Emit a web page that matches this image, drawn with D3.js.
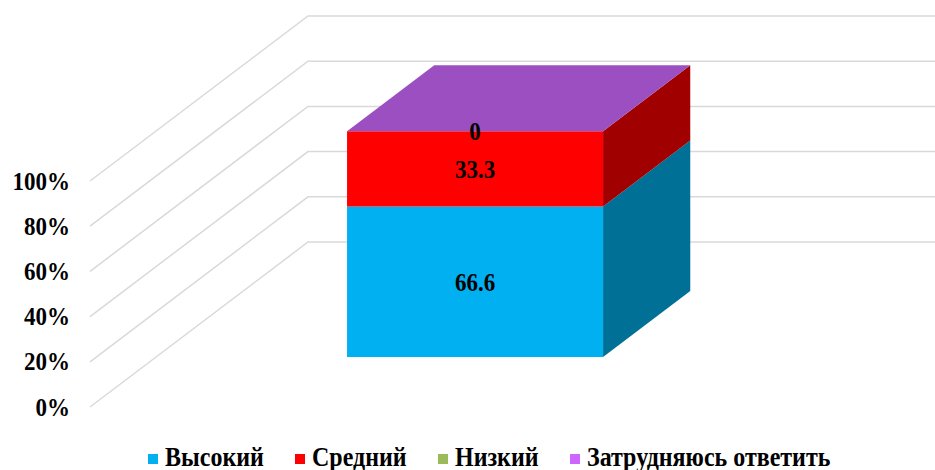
<!DOCTYPE html>
<html>
<head>
<meta charset="utf-8">
<script src="https://cdn.jsdelivr.net/npm/d3@7"></script>
<style>
  body { margin: 0; background: #fff; }
  svg text { font-family: "Liberation Serif", "Times New Roman", serif; font-weight: bold; }
</style>
</head>
<body>
<svg id="chart" width="935" height="470"></svg>
<script>
// chart data
let categories = ['Группа']
let seriesNames = ['Высокий', 'Средний', 'Низкий', 'Затрудняюсь ответить']
let seriesValues = [66.6, 33.3, 0, 0]
let seriesColors = ['#00B0F0', '#FF0000', '#9BBB59', '#CC66FF']
let sideColors = ['#007096', '#A00000', '#6A8040', '#8C45B0']
let topColors = ['#5CCBF5', '#FF4040', '#B4CD80', '#9B4FC1']
let tickValues = [0, 0.2, 0.4, 0.6, 0.8, 1]

let svg = d3.select('#chart')

// fake 3d: world x, value, depth z (0 = front, 1 = back wall)
let originX = 90
let depthX = 218, depthY = -165
let plotWidth = 638
let barZ0 = 0.303, barZ1 = 0.703
let stretch = 1.1  // text in the original looks a bit taller than plain Times

let y = d3.scaleLinear().domain([0, 1]).range([407, 181])
let x = d3.scaleBand().domain(categories).range([0, plotWidth]).paddingInner(0).paddingOuter(0.746)

let pt = (xw, v, z) => [originX + xw + z * depthX, y(v) + z * depthY]
let poly = pts => 'M' + pts.map(p => p.join(',')).join('L') + 'Z'

// grid: diagonal on the left wall + horizontal on the back wall
let grid = svg.append('g')
tickValues.forEach(t => {
  let a = pt(0, t, 0), b = pt(0, t, 1), c = pt(plotWidth + 20, t, 1)
  grid.append('path')
      .attr('d', 'M' + a + 'L' + b + 'L' + c)
      .attr('fill', 'none')
      .attr('stroke', '#d9d9d9')
      .attr('stroke-width', 1.5)
})

// axis labels
let yAxis = d3.axisLeft(y).tickValues(tickValues).tickFormat(d3.format('.0%')).tickSize(0).tickPadding(20)
let axisG = svg.append('g').attr('transform', `translate(${originX},0)`).call(yAxis)
axisG.select('.domain').remove()
axisG.selectAll('text')
     .attr('font-family', '"Liberation Serif", serif')
     .attr('font-weight', 'bold')
     .attr('font-size', 23)
     .attr('fill', '#000')
     .attr('transform', `scale(1,${stretch})`)

// stacked bar
let row = {}
seriesNames.forEach((n, i) => row[n] = seriesValues[i] / 100)
let stacked = d3.stack().keys(seriesNames)([row])

let bars = svg.append('g')
categories.forEach(cat => {
  let x0 = x(cat), x1 = x(cat) + x.bandwidth()
  stacked.forEach((s, i) => {
    let v0 = s[0][0], v1 = s[0][1]
    if (v1 - v0 <= 0) return
    bars.append('path')
        .attr('d', poly([pt(x1, v0, barZ0), pt(x1, v0, barZ1), pt(x1, v1, barZ1), pt(x1, v1, barZ0)]))
        .attr('fill', sideColors[i])
    bars.append('path')
        .attr('d', poly([pt(x0, v0, barZ0), pt(x1, v0, barZ0), pt(x1, v1, barZ0), pt(x0, v1, barZ0)]))
        .attr('fill', seriesColors[i])
  })
  // top face takes the colour of the last series
  let last = stacked.length - 1
  let vt = stacked[last][0][1]
  bars.append('path')
      .attr('d', poly([pt(x0, vt, barZ0), pt(x1, vt, barZ0), pt(x1, vt, barZ1), pt(x0, vt, barZ1)]))
      .attr('fill', topColors[last])

  // value labels (first three series)
  stacked.slice(0, 3).forEach((s, i) => {
    let v0 = s[0][0], v1 = s[0][1]
    let p = pt((x0 + x1) / 2, (v0 + v1) / 2, barZ0)
    bars.append('text')
        .attr('transform', `translate(${p[0]},${p[1]}) scale(1,${stretch})`)
        .attr('dy', '0.35em')
        .attr('text-anchor', 'middle')
        .attr('font-size', 23)
        .text(seriesValues[i])
  })
})

// legend
let legendX = [148, 295, 438, 570]
let legend = svg.append('g')
seriesNames.forEach((n, i) => {
  legend.append('rect')
        .attr('x', legendX[i]).attr('y', 454)
        .attr('width', 10).attr('height', 10)
        .attr('fill', seriesColors[i])
  legend.append('text')
        .attr('transform', `translate(${legendX[i] + 17},466) scale(1,${stretch})`)
        .attr('font-size', 24)
        .text(n)
})
</script>
</body>
</html>
